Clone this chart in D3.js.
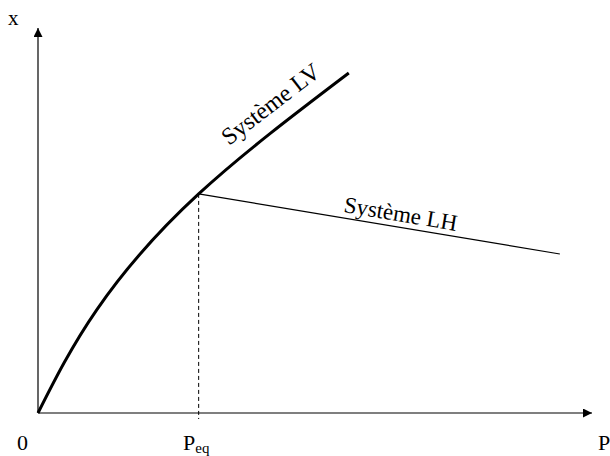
<!DOCTYPE html>
<html>
<head>
<meta charset="utf-8">
<script src="https://cdn.jsdelivr.net/npm/d3@7"></script>
<style>
  body { margin: 0; background: #fff; }
  svg { display: block; }
  text { font-family: "Liberation Serif", "Times New Roman", serif; fill: #000; }
</style>
</head>
<body>
<svg id="chart" width="610" height="456"></svg>
<script>
// LV curve (P, x)
const lvP = [0, 1.06, 2.9, 5.61];
const lvX = [0, 2.68, 5.69, 8.83];
// LH line
const lhP = [2.9, 9.42];
const lhX = [5.69, 4.13];
const pEq = 2.9;

const svg = d3.select("#chart");

const xScale = d3.scaleLinear().domain([0, 10]).range([38, 592]);
const yScale = d3.scaleLinear().domain([0, 10]).range([413, 28]);

// arrow heads
const defs = svg.append("defs");
defs.append("marker")
  .attr("id", "arrow")
  .attr("viewBox", "0 0 10 10")
  .attr("refX", 10)
  .attr("refY", 5)
  .attr("markerWidth", 10)
  .attr("markerHeight", 9)
  .attr("markerUnits", "userSpaceOnUse")
  .attr("orient", "auto")
  .append("path")
  .attr("d", "M0,0L10,5L0,10Z")
  .attr("fill", "#000");

// axes
svg.append("line")
  .attr("x1", xScale(0)).attr("y1", yScale(0))
  .attr("x2", xScale(10)).attr("y2", yScale(0))
  .attr("stroke", "#000").attr("stroke-width", 1.2)
  .attr("marker-end", "url(#arrow)");

svg.append("line")
  .attr("x1", xScale(0)).attr("y1", yScale(0))
  .attr("x2", xScale(0)).attr("y2", yScale(10))
  .attr("stroke", "#000").attr("stroke-width", 1.2)
  .attr("marker-end", "url(#arrow)");

// dashed line at Peq
svg.append("line")
  .attr("x1", xScale(pEq)).attr("y1", yScale(lhX[0]))
  .attr("x2", xScale(pEq)).attr("y2", yScale(0) + 6)
  .attr("stroke", "#000").attr("stroke-width", 1)
  .attr("stroke-dasharray", "4,3");

// LV curve
const lvData = lvP.map((p, i) => [p, lvX[i]]);
const line = d3.line()
  .x(d => xScale(d[0]))
  .y(d => yScale(d[1]))
  .curve(d3.curveNatural);

svg.append("path")
  .datum(lvData)
  .attr("d", line)
  .attr("fill", "none")
  .attr("stroke", "#000")
  .attr("stroke-width", 3);

// LH line
const lhData = lhP.map((p, i) => [p, lhX[i]]);
svg.append("path")
  .datum(lhData)
  .attr("d", d3.line().x(d => xScale(d[0])).y(d => yScale(d[1])))
  .attr("fill", "none")
  .attr("stroke", "#000")
  .attr("stroke-width", 1.2);

// labels
svg.append("text")
  .attr("transform", "translate(229,146) rotate(-37.5)")
  .attr("font-size", 24)
  .text("Système LV");

svg.append("text")
  .attr("transform", "translate(343,212) rotate(9.5)")
  .attr("font-size", 23)
  .text("Système LH");

svg.append("text").attr("x", 8).attr("y", 25).attr("font-size", 21).text("x");
svg.append("text").attr("x", 17).attr("y", 450).attr("font-size", 22).text("0");
svg.append("text").attr("x", 598).attr("y", 450).attr("font-size", 22).text("P");

const peq = svg.append("text").attr("x", 183).attr("y", 450).attr("font-size", 22);
peq.append("tspan").text("P");
peq.append("tspan").attr("dy", 3).attr("font-size", 15).text("eq");
</script>
</body>
</html>
